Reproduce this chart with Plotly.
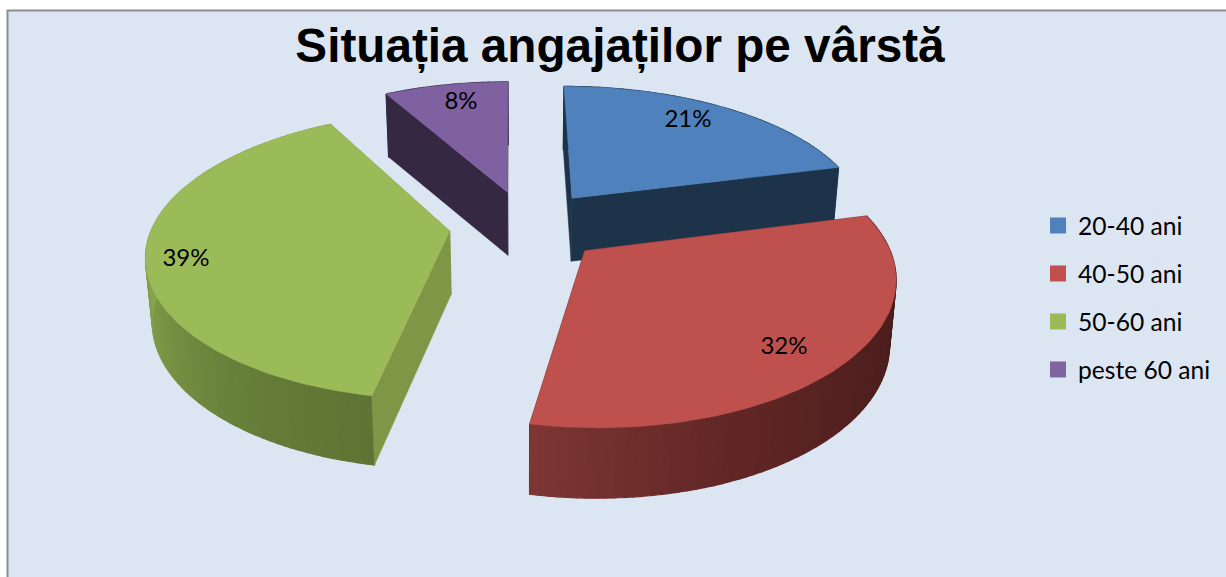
import numpy as np
import plotly.graph_objects as go

# --- data ---
categories = ["20-40 ani", "40-50 ani", "50-60 ani", "peste 60 ani"]
shares = [21, 32, 39, 8]
title_text = "Situația angajaților pe vârstă"

# --- style ---
top_colors = ["#4F81BD", "#BE504D", "#9BBB59", "#7F60A0"]
legend_colors = ["#4F81BD", "#C0504D", "#9BBB59", "#8064A2"]
cut_colors = ["#1D3349", "#4A1E1D", "#7F9646", "#352842"]
BG = "#DCE6F2"
FONT = "Lato"

# projection of the tilted, exploded pie on to pixel-like axes
CX, CY, AX, BY, PERSP, EXPLODE = 526.5, 225.5, 297.0, 137.0, 0.155, 0.26
SKEW, FRONT_DROP = 2.0, 3.5
DEPTH, SHRINK = 63.0, 0.982
LABEL_POS = [(688, 121), (784, 348), (186, 260), (461, 103)]


def top(u, v):
    w = 1 + PERSP * v
    return CX - SKEW * v + AX * u / w, CY - BY * v / w + FRONT_DROP * np.minimum(v, 0.0) ** 2, w


def bottom(u, v):
    x, y, w = top(u, v)
    d = DEPTH * np.maximum(1.0, 1 / w) ** 0.55
    return CX + (x - CX) * SHRINK, y + d


def rim_color(i, deg):
    if i == 1:
        stops = ([100, 125, 160, 191], [(0x48, 0x1D, 0x1C), (0x50, 0x20, 0x1F), (0x62, 0x27, 0x26), (0x7E, 0x36, 0x33)])
    elif i == 2:
        stops = ([191, 215, 245, 275, 331], [(0x5E, 0x74, 0x34), (0x66, 0x7E, 0x39), (0x7A, 0x96, 0x45), (0x8C, 0xA9, 0x50), (0x8C, 0xA9, 0x50)])
    else:
        return cut_colors[i]
    c = [int(round(np.interp(deg, stops[0], [s[k] for s in stops[1]]))) for k in range(3)]
    return f"rgb({c[0]},{c[1]},{c[2]})"


fig = go.Figure()


def poly(xs, ys, color, width=1.2):
    fig.add_trace(go.Scatter(
        x=list(xs) + [xs[0]], y=list(ys) + [ys[0]], mode="lines", fill="toself",
        fillcolor=color, line=dict(color=color, width=width),
        hoverinfo="skip", showlegend=False))


edges = np.concatenate([[0], np.cumsum(shares)]) / np.sum(shares) * 360
for i in range(len(shares)):
    a0, a1 = edges[i], edges[i + 1]
    mid = np.radians((a0 + a1) / 2)
    ou, ov = EXPLODE * np.sin(mid), EXPLODE * np.cos(mid)
    deg = np.linspace(a0, a1, max(4, int((a1 - a0) / 1.5) + 1))
    rad = np.radians(deg)
    us, vs = ou + np.sin(rad), ov + np.cos(rad)
    tx, ty, _ = top(us, vs)
    bx, by = bottom(us, vs)
    ax, ay, _ = top(ou, ov)
    abx, aby = bottom(ou, ov)
    # the end cut (rear-facing for most slices), then rim, then the start cut
    poly([ax, tx[-1], bx[-1], abx], [ay, ty[-1], by[-1], aby], cut_colors[i], 0.5)
    for k in range(len(deg) - 1):
        poly([tx[k], tx[k + 1], bx[k + 1], bx[k]], [ty[k], ty[k + 1], by[k + 1], by[k]],
             rim_color(i, (deg[k] + deg[k + 1]) / 2))
    poly([ax, tx[0], bx[0], abx], [ay, ty[0], by[0], aby], cut_colors[i], 0.5)
    poly([ax] + list(tx), [ay] + list(ty), top_colors[i], 0.5)

# percentage labels
fig.add_trace(go.Scatter(
    x=[p[0] for p in LABEL_POS], y=[p[1] for p in LABEL_POS], mode="text",
    text=[f"{s}%" for s in shares], textposition="middle center",
    textfont=dict(family=FONT, size=24, color="#000000"),
    hoverinfo="skip", showlegend=False))

# legend entries
for name, col in zip(categories, legend_colors):
    fig.add_trace(go.Scatter(
        x=[None], y=[None], mode="markers", name=name, legendgroup=name,
        marker=dict(symbol="square", size=16, color=col)))

fig.update_layout(
    width=1226, height=577, margin=dict(l=0, r=0, t=0, b=0),
    paper_bgcolor="#FFFFFF", plot_bgcolor="#FFFFFF",
    xaxis=dict(range=[0, 1226], visible=False, fixedrange=True),
    yaxis=dict(range=[577, 0], visible=False, fixedrange=True),
    title=dict(text=f"<b>{title_text}</b>", x=620 / 1226, xanchor="center",
               y=1 - 45 / 577, yanchor="middle",
               font=dict(family="Liberation Sans", size=47.7, color="#000000")),
    legend=dict(x=1038 / 1226, y=1 - 203 / 577, xanchor="left", yanchor="top",
                bgcolor="rgba(0,0,0,0)", font=dict(family=FONT, size=24.6, color="#000000"),
                tracegroupgap=13, itemwidth=30),
    shapes=[dict(type="rect", xref="x", yref="y", x0=7.5, y0=10.5, x1=1240, y1=590,
                 fillcolor=BG, line=dict(color="#8C8C8C", width=2), layer="below")],
)

fig.write_html("out.html", config={"displayModeBar": False},
               post_script="document.body.style.margin='0';document.body.style.overflow='hidden';")
